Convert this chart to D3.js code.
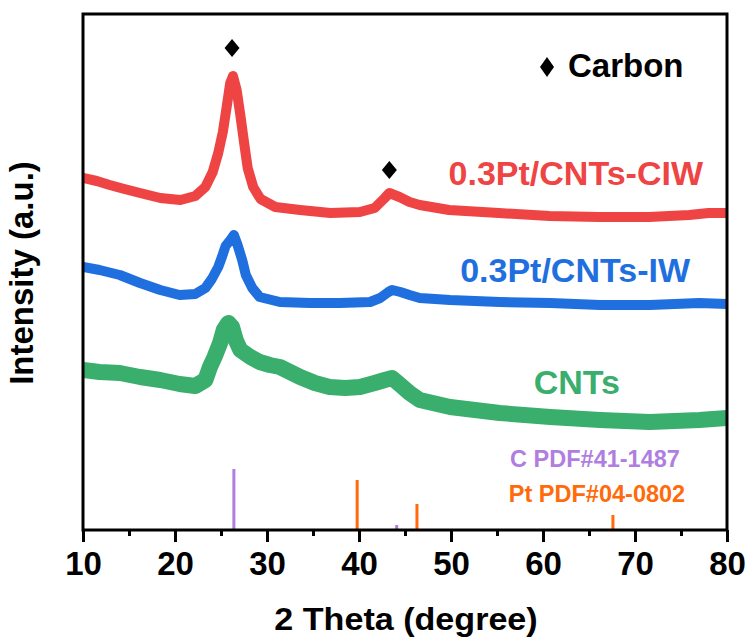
<!DOCTYPE html>
<html>
<head>
<meta charset="utf-8">
<script src="https://cdn.jsdelivr.net/npm/d3@7"></script>
<style>
  html, body { margin: 0; padding: 0; background: #fff; }
  svg text { font-family: "Liberation Sans", Arial, sans-serif; font-weight: bold; }
</style>
</head>
<body>
<svg id="chart" width="750" height="641"></svg>
<script>
// ---- Data ----
const xTicks = [10, 20, 30, 40, 50, 60, 70, 80];
const xMinorTicks = [15, 25, 35, 45, 55, 65, 75];

// 0.3Pt/CNTs-CIW  (2θ, intensity a.u.)
const ciwTheta = [10, 11.5, 12.9, 14.5, 16.2, 18.4, 20.6, 22.2, 23.3, 24.1, 24.7, 25.2, 25.6, 26.0, 26.3, 26.7, 27.1, 27.5, 27.9, 28.5, 29.3, 30.9, 33.6, 36.9, 40.1, 41.7, 42.8, 43.3, 44.4, 45.5, 46.6, 49.8, 55.2, 60.7, 66.1, 71.5, 75.9, 78, 80];
const ciwInt   = [352, 349, 345, 341, 337, 332, 330, 334, 343, 358, 377, 398, 422, 447, 454, 440, 415, 388, 362, 343, 331, 323, 320, 317, 318, 322, 332, 337, 333, 328, 325, 320, 317, 314, 313, 313, 315, 317, 317];

// 0.3Pt/CNTs-IW
const iwTheta = [10, 11.8, 14.0, 16.2, 18.4, 20.5, 22.2, 23.3, 24.0, 24.7, 25.1, 25.5, 26.1, 26.4, 26.8, 27.3, 27.7, 28.4, 29.2, 31.4, 34.7, 37.9, 41.2, 42.3, 43.2, 43.6, 44.5, 45.5, 46.6, 49.9, 55.3, 60.8, 66.2, 71.6, 77, 80];
const iwInt   = [263, 260, 255, 247, 240, 235, 236, 242, 251, 263, 273, 284, 291, 295, 285, 270, 255, 242, 233, 228, 227, 227, 228, 232, 238, 240, 238, 235, 232, 230, 228, 227, 225, 225, 227, 226];

// CNTs
const cntTheta = [10, 11.8, 14.0, 16.2, 18.4, 20.5, 22.2, 23.3, 23.8, 24.3, 24.9, 25.3, 25.8, 26.2, 26.6, 27.1, 28.2, 29.2, 30.3, 31.4, 32.5, 33.6, 35.2, 36.8, 38.5, 40.1, 41.7, 42.8, 43.6, 44.5, 45.5, 46.6, 49.9, 55.3, 60.8, 66.2, 71.6, 77, 80];
const cntInt   = [160, 158, 157, 153, 150, 146, 144, 150, 163, 173, 187, 200, 207, 203, 190, 180, 173, 168, 165, 163, 158, 153, 147, 143, 142, 143, 147, 150, 152, 145, 137, 130, 123, 117, 113, 110, 108, 110, 112];

// Reference patterns (stick positions and relative heights)
const cRefTheta = [26.4, 44.1, 54.5];
const cRefInt   = [61, 5, 1];
const ptRefTheta = [39.8, 46.3, 67.6];
const ptRefInt   = [50, 26, 15];

const seriesNames  = ["0.3Pt/CNTs-CIW", "0.3Pt/CNTs-IW", "CNTs"];
const seriesColors = ["#ef4444", "#1f6fdf", "#3aae6c"];
const markerTheta = [26.2, 43.3];
const markerInt   = [482, 360];

// ---- Layout ----
const svg = d3.select("#chart");
const L = 83, R = 727, T = 14, B = 530;

const x = d3.scaleLinear().domain([10, 80]).range([L, R]);
const y = d3.scaleLinear().domain([0, B - T]).range([B, T]);

const line = d3.line()
  .x(d => x(d[0])).y(d => y(d[1]))
  .curve(d3.curveLinear);

const traces = [
  { th: ciwTheta, v: ciwInt, c: seriesColors[0], w: 10 },
  { th: iwTheta,  v: iwInt,  c: seriesColors[1], w: 10 },
  { th: cntTheta, v: cntInt, c: seriesColors[2], w: 16 }
];

const plot = svg.append("g");
plot.append("defs").append("clipPath").attr("id", "clip")
  .append("rect").attr("x", L).attr("y", T).attr("width", R - L).attr("height", B - T);

const tg = plot.append("g").attr("clip-path", "url(#clip)");
traces.forEach(t => {
  tg.append("path")
    .attr("d", line(t.th.map((a, i) => [a, t.v[i]])))
    .attr("fill", "none")
    .attr("stroke", t.c)
    .attr("stroke-width", t.w)
    .attr("stroke-linejoin", "round")
    .attr("stroke-linecap", "butt");
});

// reference sticks
tg.selectAll(".cref").data(cRefTheta.map((a, i) => [a, cRefInt[i]])).enter()
  .append("line")
  .attr("x1", d => x(d[0])).attr("x2", d => x(d[0]))
  .attr("y1", y(0)).attr("y2", d => y(d[1]))
  .attr("stroke", "#b07ee0").attr("stroke-width", 3);
tg.selectAll(".ptref").data(ptRefTheta.map((a, i) => [a, ptRefInt[i]])).enter()
  .append("line")
  .attr("x1", d => x(d[0])).attr("x2", d => x(d[0]))
  .attr("y1", y(0)).attr("y2", d => y(d[1]))
  .attr("stroke", "#ff6a0a").attr("stroke-width", 3);

// diamond markers
const diamond = "M0,-9L7.5,0L0,9L-7.5,0Z";
markerTheta.forEach((a, i) => {
  plot.append("path").attr("d", diamond)
    .attr("transform", `translate(${x(a)},${y(markerInt[i])})`)
    .attr("fill", "#000");
});

// axis (bottom) with outward ticks
const axis = d3.axisBottom(x).tickValues(xTicks).tickSize(12).tickSizeOuter(0).tickFormat(d3.format("d"));
const ag = svg.append("g").attr("transform", `translate(0,${B})`).call(axis);
ag.select(".domain").remove();
ag.selectAll(".tick line").attr("stroke", "#000").attr("stroke-width", 3);
ag.selectAll(".tick text")
  .attr("y", 45).attr("dy", 0)
  .attr("fill", "#000")
  .style("font-size", "33px");

const minor = d3.axisBottom(x).tickValues(xMinorTicks).tickSize(6).tickFormat("");
const mg = svg.append("g").attr("transform", `translate(0,${B})`).call(minor);
mg.select(".domain").remove();
mg.selectAll(".tick line").attr("stroke", "#000").attr("stroke-width", 3);

// frame
svg.append("rect")
  .attr("x", L).attr("y", T).attr("width", R - L).attr("height", B - T)
  .attr("fill", "none").attr("stroke", "#000").attr("stroke-width", 3);

// axis titles
svg.append("text")
  .attr("transform", "translate(406,630) scale(1.1,1)")
  .attr("text-anchor", "middle")
  .style("font-size", "31px")
  .text("2 Theta (degree)");

svg.append("text")
  .attr("transform", "translate(33,273) rotate(-90)")
  .attr("text-anchor", "middle")
  .style("font-size", "33px")
  .text("Intensity (a.u.)");

// series labels
svg.append("text").attr("x", 703).attr("y", 185).attr("text-anchor", "end")
  .attr("fill", seriesColors[0]).style("font-size", "34px").text(seriesNames[0]);
svg.append("text").attr("x", 690).attr("y", 282).attr("text-anchor", "end")
  .attr("fill", seriesColors[1]).style("font-size", "34px").text(seriesNames[1]);
svg.append("text").attr("x", 620).attr("y", 394).attr("text-anchor", "end")
  .attr("fill", seriesColors[2]).style("font-size", "34px").text(seriesNames[2]);

// legend
svg.append("path").attr("d", "M0,-10L7,0L0,10L-7,0Z")
  .attr("transform", "translate(547,67)").attr("fill", "#000");
svg.append("text").attr("x", 568).attr("y", 77)
  .style("font-size", "33px").attr("fill", "#000").text("Carbon");

// reference labels
svg.append("text").attr("x", 595).attr("y", 467).attr("text-anchor", "middle")
  .attr("fill", "#b07ee0").style("font-size", "23.5px").text("C PDF#41-1487");
svg.append("text").attr("x", 597).attr("y", 502).attr("text-anchor", "middle")
  .attr("fill", "#ff6a0a").style("font-size", "23.5px").text("Pt PDF#04-0802");
</script>
</body>
</html>
